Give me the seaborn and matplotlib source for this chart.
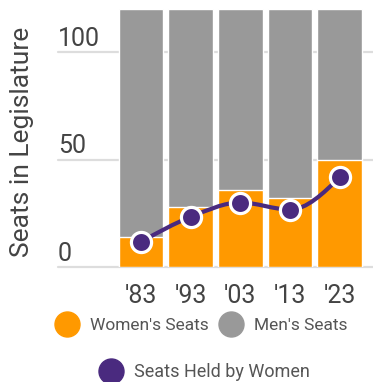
import numpy as np
import pandas as pd
import seaborn as sns
import matplotlib.pyplot as plt
from matplotlib.path import Path
from matplotlib.patches import PathPatch
from matplotlib.lines import Line2D

# data
years = ["'83", "'93", "'03", "'13", "'23"]
women_seats = [14, 28, 36, 32, 50]
men_seats = [106, 92, 84, 88, 70]
women_pct = [11.7, 23.3, 30.0, 26.7, 41.7]  # seats held by women (%)

orange = '#ff9900'
gray = '#999999'
purple = '#4a2a7f'
grid_c = '#dddddd'
text_c = '#444444'

sns.set_style('white')
plt.rcParams['font.family'] = ['Roboto', 'DejaVu Sans']

df = pd.DataFrame({'year': years, 'women': women_seats, 'men': men_seats})
df['total'] = df['women'] + df['men']

W, H = 373, 382
fig = plt.figure(figsize=(W / 100, H / 100), dpi=100)
ax = fig.add_axes([58 / W, 1 - 267 / H, 1 - 58 / W, (267 - 9) / H])

# gridlines behind the bars
for v in [0, 50, 100]:
    ax.axhline(v, color=grid_c, lw=1.6, zorder=0, clip_on=False)
    ax.annotate(str(v), xy=(0, v), xycoords=('axes fraction', 'data'),
                xytext=(0, 1), textcoords='offset points',
                ha='left', va='bottom', fontsize=18, color=text_c)

sns.barplot(data=df, x='year', y='total', color=gray, width=0.9,
            saturation=1, ax=ax, zorder=1)
sns.barplot(data=df, x='year', y='women', color=orange, width=0.9,
            saturation=1, ax=ax, zorder=2)


def monotone_path(x, y):
    # smooth monotone cubic, like d3.curveMonotoneX
    x = np.asarray(x, float)
    y = np.asarray(y, float)
    n = len(x)
    h = np.diff(x)
    s = np.diff(y) / h
    t = np.zeros(n)
    for i in range(1, n - 1):
        if s[i - 1] * s[i] > 0:
            p = (s[i - 1] * h[i] + s[i] * h[i - 1]) / (h[i - 1] + h[i])
            t[i] = (np.sign(s[i - 1]) + np.sign(s[i])) * min(abs(s[i - 1]), abs(s[i]), 0.5 * abs(p))
    t[0] = (3 * s[0] - t[1]) / 2
    t[-1] = (3 * s[-1] - t[-2]) / 2
    verts = [(x[0], y[0])]
    codes = [Path.MOVETO]
    for i in range(n - 1):
        d = h[i] / 3
        verts += [(x[i] + d, y[i] + d * t[i]), (x[i + 1] - d, y[i + 1] - d * t[i + 1]), (x[i + 1], y[i + 1])]
        codes += [Path.CURVE4] * 3
    return Path(verts, codes)


pos = np.arange(len(years))
ax.add_patch(PathPatch(monotone_path(pos, women_pct), fill=False,
                       edgecolor=purple, lw=3, zorder=3))
ax.scatter(pos, women_pct, s=14.5 ** 2, color=purple, edgecolor='white',
           linewidth=2.3, zorder=4)

ax.set_xlim(-1.67, 4.67)
ax.set_ylim(0, 120)
ax.set_yticks([])
ax.set_xlabel('')
ax.set_ylabel('')
ax.tick_params(axis='x', length=0, pad=12, labelsize=18, labelcolor=text_c)
sns.despine(ax=ax, left=True, bottom=True)

fig.text(22 / W, 1 - 142 / H, 'Seats in Legislature', rotation=90,
         ha='center', va='center', fontsize=19, color=text_c)

# legends
h1 = [Line2D([], [], ls='none', marker='o', ms=18, color=orange),
      Line2D([], [], ls='none', marker='o', ms=18, color=gray)]
fig.legend(h1, ["Women's Seats", "Men's Seats"], ncol=2,
           loc='center', bbox_to_anchor=(203 / W, 1 - 325 / H),
           frameon=False, fontsize=12.5, handlelength=1.0,
           handletextpad=0.8, columnspacing=0.8, labelcolor='#555555')
h2 = [Line2D([], [], ls='none', marker='o', ms=18, color=purple)]
fig.legend(h2, ['Seats Held by Women'], loc='center',
           bbox_to_anchor=(206 / W, 1 - 372 / H), frameon=False,
           fontsize=13, handlelength=1.0, handletextpad=0.8,
           labelcolor='#555555')

fig.savefig('out.png', dpi=100)
